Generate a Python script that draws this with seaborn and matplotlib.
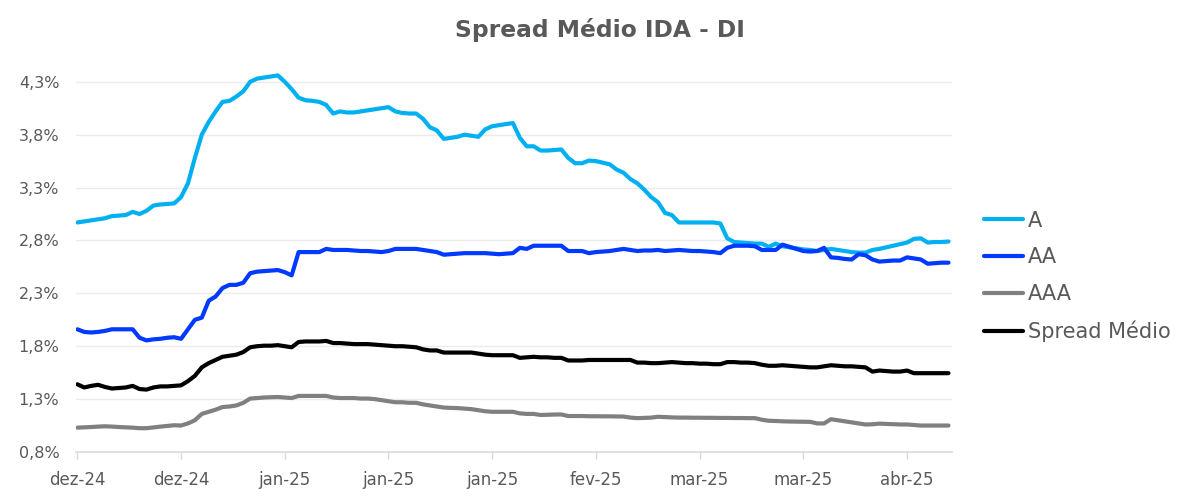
import matplotlib
matplotlib.use("Agg")
import matplotlib.pyplot as plt
import seaborn as sns
import pandas as pd
import numpy as np

# ---- data (spread, % a.a.) ----
serie_A = [2.97, 2.98, 2.99, 3.00, 3.01, 3.03, 3.035, 3.04, 3.07, 3.05,
           3.08, 3.13, 3.14, 3.145, 3.15, 3.21, 3.34, 3.58, 3.80, 3.92,
           4.02, 4.11, 4.12, 4.16, 4.21, 4.30, 4.33, 4.34, 4.35, 4.36,
           4.30, 4.23, 4.15, 4.125, 4.12, 4.11, 4.08, 4.00, 4.02, 4.01,
           4.01, 4.02, 4.03, 4.04, 4.05, 4.06, 4.02, 4.005, 4.00, 4.00,
           3.95, 3.87, 3.84, 3.76, 3.77, 3.78, 3.80, 3.79, 3.78, 3.85,
           3.88, 3.89, 3.90, 3.91, 3.77, 3.69, 3.69, 3.65, 3.65, 3.655,
           3.66, 3.58, 3.53, 3.53, 3.555, 3.55, 3.535, 3.52, 3.47, 3.44,
           3.38, 3.34, 3.28, 3.21, 3.16, 3.06, 3.04, 2.97, 2.97, 2.97,
           2.97, 2.97, 2.97, 2.96, 2.82, 2.785, 2.78, 2.775, 2.77, 2.77,
           2.74, 2.77, 2.745, 2.735, 2.725, 2.715, 2.71, 2.70, 2.71, 2.72,
           2.71, 2.70, 2.69, 2.685, 2.685, 2.71, 2.72, 2.735, 2.75, 2.765,
           2.78, 2.815, 2.82, 2.78, 2.785, 2.785, 2.79]

serie_AA = [1.96, 1.935, 1.93, 1.935, 1.945, 1.96, 1.96, 1.96, 1.96, 1.88,
            1.855, 1.865, 1.87, 1.88, 1.885, 1.87, 1.96, 2.05, 2.07, 2.23,
            2.27, 2.35, 2.38, 2.38, 2.40, 2.49, 2.505, 2.51, 2.515, 2.52,
            2.50, 2.47, 2.69, 2.69, 2.69, 2.69, 2.72, 2.71, 2.71, 2.71,
            2.705, 2.70, 2.70, 2.695, 2.69, 2.70, 2.72, 2.72, 2.72, 2.72,
            2.71, 2.70, 2.69, 2.665, 2.67, 2.675, 2.68, 2.68, 2.68, 2.68,
            2.675, 2.67, 2.675, 2.68, 2.73, 2.72, 2.75, 2.75, 2.75, 2.75,
            2.75, 2.70, 2.70, 2.70, 2.68, 2.69, 2.695, 2.70, 2.71, 2.72,
            2.71, 2.70, 2.705, 2.705, 2.71, 2.70, 2.705, 2.71, 2.705, 2.70,
            2.70, 2.695, 2.69, 2.68, 2.73, 2.75, 2.75, 2.75, 2.745, 2.71,
            2.71, 2.71, 2.76, 2.74, 2.72, 2.70, 2.695, 2.70, 2.73, 2.64,
            2.635, 2.625, 2.62, 2.67, 2.66, 2.62, 2.60, 2.605, 2.61, 2.61,
            2.64, 2.63, 2.62, 2.58, 2.585, 2.59, 2.59]

serie_AAA = [1.03, 1.033, 1.036, 1.04, 1.043, 1.04, 1.036, 1.033, 1.03, 1.025,
             1.025, 1.032, 1.04, 1.046, 1.053, 1.05, 1.07, 1.10, 1.16, 1.18,
             1.20, 1.225, 1.23, 1.24, 1.265, 1.305, 1.31, 1.315, 1.318, 1.32,
             1.315, 1.31, 1.33, 1.33, 1.33, 1.33, 1.33, 1.315, 1.31, 1.31,
             1.31, 1.305, 1.305, 1.30, 1.29, 1.28, 1.27, 1.27, 1.265, 1.265,
             1.25, 1.24, 1.23, 1.22, 1.217, 1.215, 1.21, 1.205, 1.195, 1.185,
             1.18, 1.18, 1.18, 1.18, 1.165, 1.16, 1.16, 1.15, 1.152, 1.154,
             1.155, 1.14, 1.14, 1.14, 1.138, 1.138, 1.137, 1.137, 1.136, 1.135,
             1.125, 1.12, 1.122, 1.125, 1.133, 1.13, 1.127, 1.125, 1.125, 1.124,
             1.124, 1.123, 1.123, 1.122, 1.122, 1.121, 1.121, 1.12, 1.12, 1.105,
             1.095, 1.093, 1.09, 1.088, 1.087, 1.086, 1.085, 1.07, 1.07, 1.11,
             1.10, 1.09, 1.08, 1.07, 1.06, 1.062, 1.068, 1.065, 1.063, 1.06,
             1.06, 1.055, 1.05, 1.05, 1.05, 1.05, 1.05]

serie_medio = [1.44, 1.41, 1.425, 1.435, 1.415, 1.40, 1.405, 1.41, 1.425, 1.395,
               1.39, 1.41, 1.42, 1.42, 1.425, 1.43, 1.47, 1.52, 1.60, 1.64,
               1.67, 1.70, 1.71, 1.72, 1.745, 1.79, 1.80, 1.805, 1.805, 1.81,
               1.80, 1.79, 1.84, 1.845, 1.845, 1.845, 1.85, 1.83, 1.83, 1.825,
               1.82, 1.82, 1.82, 1.815, 1.81, 1.805, 1.80, 1.80, 1.795, 1.79,
               1.77, 1.76, 1.76, 1.74, 1.74, 1.74, 1.74, 1.74, 1.73, 1.72,
               1.715, 1.715, 1.715, 1.715, 1.69, 1.695, 1.70, 1.695, 1.695, 1.69,
               1.69, 1.665, 1.665, 1.665, 1.67, 1.67, 1.67, 1.67, 1.67, 1.67,
               1.67, 1.645, 1.645, 1.64, 1.64, 1.645, 1.65, 1.645, 1.64, 1.64,
               1.635, 1.635, 1.63, 1.63, 1.65, 1.65, 1.645, 1.645, 1.64, 1.625,
               1.615, 1.615, 1.62, 1.615, 1.61, 1.605, 1.60, 1.60, 1.61, 1.62,
               1.615, 1.61, 1.61, 1.605, 1.60, 1.56, 1.57, 1.565, 1.56, 1.56,
               1.57, 1.545, 1.545, 1.545, 1.545, 1.545, 1.545]

series_names = ["A", "AA", "AAA", "Spread Médio"]
tick_labels = ["dez-24", "dez-24", "jan-25", "jan-25", "jan-25",
               "fev-25", "mar-25", "mar-25", "abr-25"]
tick_every = 15
y_ticks = [0.8, 1.3, 1.8, 2.3, 2.8, 3.3, 3.8, 4.3]

# ---- long-form table ----
n = len(serie_A)
idx = list(range(n))
frames = []
for name, vals in zip(series_names, [serie_A, serie_AA, serie_AAA, serie_medio]):
    frames.append(pd.DataFrame({"dia": idx, "spread": vals, "serie": name}))
df = pd.concat(frames, ignore_index=True)

palette = {"A": "#00B0F0", "AA": "#0039FF", "AAA": "#808080", "Spread Médio": "#000000"}

sns.set_theme(style="white")
plt.rcParams["font.family"] = ["DejaVu Sans"]

fig = plt.figure(figsize=(12, 5.04), dpi=100)
ax = fig.add_axes([0.0633, 0.1032, 0.7300, 0.766])

sns.lineplot(data=df, x="dia", y="spread", hue="serie", hue_order=series_names,
             palette=palette, linewidth=3.0, ax=ax, legend=True)

text_color = "#595959"
ax.set_xlim(-0.2, n - 0.5)
ax.set_ylim(0.8, 4.45)
ax.set_yticks(y_ticks)
ax.set_yticklabels([f"{v:.1f}".replace(".", ",") + "%" for v in y_ticks])
ax.set_xticks([i * tick_every for i in range(len(tick_labels))])
ax.set_xticklabels(tick_labels)
ax.set_xlabel("")
ax.set_ylabel("")

ax.grid(axis="y", color="#EBEBEB", linewidth=1.0)
ax.grid(axis="x", visible=False)
ax.set_axisbelow(True)
for side in ["top", "right", "left"]:
    ax.spines[side].set_visible(False)
ax.spines["bottom"].set_color("#D9D9D9")
ax.spines["bottom"].set_linewidth(1.2)

ax.tick_params(axis="y", length=0, pad=12, labelsize=11.5, labelcolor=text_color)
ax.tick_params(axis="x", length=5, width=1, color="#D9D9D9", pad=9,
               labelsize=12, labelcolor=text_color, bottom=True)

fig.text(0.5, 0.94, "Spread Médio IDA - DI", ha="center", va="center",
         fontsize=16.8, fontweight="bold", color=text_color)

leg = ax.legend(loc="center left", bbox_to_anchor=(1.015, 0.455), frameon=False,
                fontsize=15, labelspacing=0.8, handlelength=1.9, handletextpad=0.2)
for t in leg.get_texts():
    t.set_color(text_color)
for h in leg.get_lines():
    h.set_linewidth(3.0)

fig.savefig("out.png", dpi=100)
